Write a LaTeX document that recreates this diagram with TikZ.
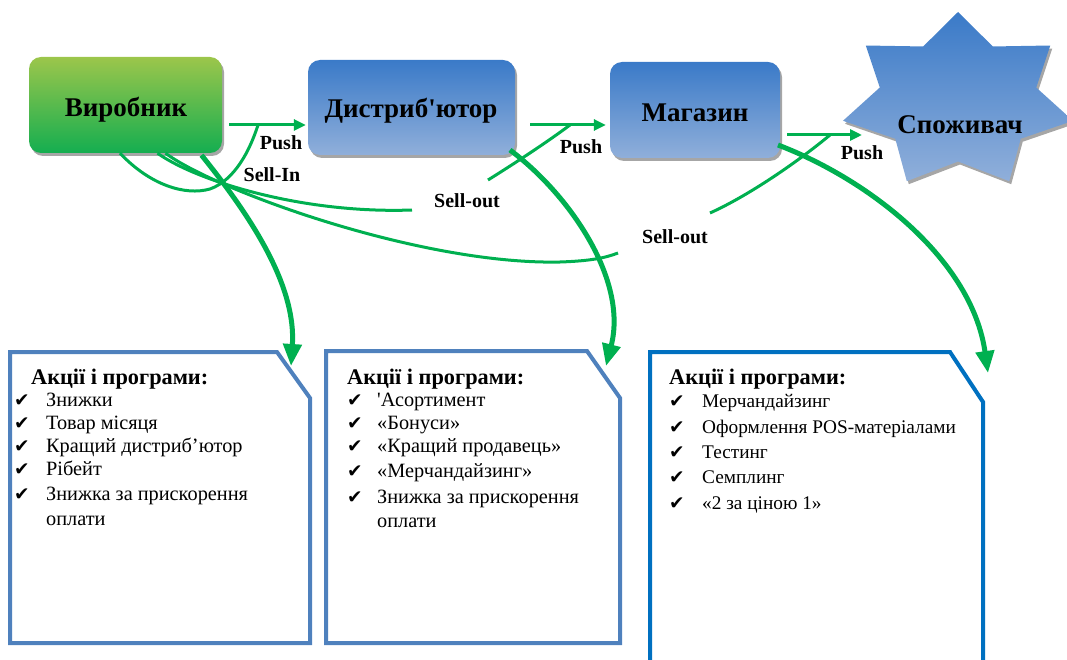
\documentclass[tikz,border=0pt]{standalone}
\usepackage{fontspec}
\setmainfont{Liberation Serif}[Ligatures=TeXOff]
\newfontfamily\dvs{DejaVu Sans}
\usetikzlibrary{arrows.meta,shadows}
\definecolor{grn}{HTML}{00B050}
\definecolor{gTop}{HTML}{9CC64B}
\definecolor{gBot}{HTML}{14AE50}
\definecolor{bTop}{HTML}{3A7AC8}
\definecolor{bBot}{HTML}{90AFDA}
\definecolor{brdA}{HTML}{4F81BD}
\definecolor{brdB}{HTML}{0070C0}
\begin{document}
\begin{tikzpicture}[x=1pt,y=-1pt,
  shd/.style={drop shadow={shadow xshift=2pt,shadow yshift=-3pt,fill=black!35,opacity=1}},
  gbox/.style={rounded corners=12pt, top color=gTop, bottom color=gBot, inner sep=0pt, shd},
  bbox/.style={rounded corners=12pt, top color=bTop, bottom color=bBot, inner sep=0pt, shd},
  bigtxt/.style={font=\rmfamily\bfseries\fontsize{27}{32}\selectfont, inner sep=0pt},
  lbl/.style={font=\rmfamily\bfseries\fontsize{20}{24}\selectfont, inner sep=0pt},
  ttl/.style={font=\rmfamily\bfseries\fontsize{22.3}{26}\selectfont, inner sep=0pt, anchor=base west},
  itm/.style={font=\rmfamily\fontsize{20.3}{24}\selectfont, inner sep=0pt, anchor=base west},
  itmb/.style={font=\rmfamily\fontsize{19.3}{23}\selectfont, inner sep=0pt, anchor=base west},
  chk/.style={font=\dvs\fontsize{18.5}{22}\selectfont, inner sep=0pt, anchor=base west},
  gline/.style={draw=grn, line width=3pt},
  garrow/.style={gline, -{Triangle[width=11pt,length=12pt]}},
  bigarrow/.style={draw=grn, line width=5pt, -{Triangle[width=18pt,length=22pt]}},
  infoA/.style={draw=brdA, line width=4pt, fill=white},
  infoB/.style={draw=brdB, line width=4pt, fill=white}
]
\useasboundingbox (0,0) rectangle (1067,660);

% main boxes
\node[gbox, minimum width=193pt, minimum height=96pt] (prod) at (125.5,105) {};
\node[bbox, minimum width=207pt, minimum height=95pt] (dist) at (411.5,107.5) {};
\node[bbox, minimum width=170pt, minimum height=96pt] (shop) at (695,110) {};

% star
\fill[black!35, xshift=2pt, yshift=-3pt] plot[variable=\k, samples at={0,...,13}]
  ({958+118*(0.84+0.16*cos(180*\k))*cos(90+\k*360/14)},
   {101-89*(0.84+0.16*cos(180*\k))*sin(90+\k*360/14)}) -- cycle;
\shade[top color=bTop, bottom color=bBot] plot[variable=\k, samples at={0,...,13}]
  ({958+118*(0.84+0.16*cos(180*\k))*cos(90+\k*360/14)},
   {101-89*(0.84+0.16*cos(180*\k))*sin(90+\k*360/14)}) -- cycle;

\node[bigtxt] (prodT) at (126,110) {Виробник};
\node[bigtxt] (distT) at (411,111) {Дистриб'ютор};
\node[bigtxt] (shopT) at (695,113) {Магазин};
\node[bigtxt] (consT) at (960,125) {Споживач};

% info boxes
\draw[infoA] (10,352) -- (277,352) -- (310,398) -- (310,643) -- (10,643) -- cycle;
\draw[infoA] (326,351) -- (587,351) -- (620,398) -- (620,643) -- (326,643) -- cycle;
\fill[white] (650,352) -- (950,352) -- (983,402) -- (983,670) -- (650,670) -- cycle;
\draw[infoB] (650,670) -- (650,352) -- (950,352) -- (983,402) -- (983,670);

% coordinates
\coordinate (p1s) at ([xshift=7pt,yshift=-20pt]prod.east);
\coordinate (p1e) at ([xshift=-2pt,yshift=-17.5pt]dist.west);
\coordinate (p2s) at ([xshift=15pt,yshift=-17.5pt]dist.east);
\coordinate (p2e) at ([xshift=-4pt,yshift=-15pt]shop.west);
\coordinate (p3s) at ([xshift=7pt,yshift=-25pt]shop.east);
\coordinate (p3e) at (862,135);
\coordinate (sinS) at ([xshift=-5.5pt]prod.south);
\coordinate (sinE) at (258,125);
\coordinate (so1S) at ([xshift=32pt]prod.south);
\coordinate (so1a) at (412,210);
\coordinate (so1b) at (488,180);
\coordinate (so1E) at (570,125);
\coordinate (so2S) at ([xshift=40pt]prod.south);
\coordinate (so2a) at (618,253);
\coordinate (so2b) at (710,213);
\coordinate (so2E) at (830,135);
\coordinate (a1S) at ([xshift=76pt,yshift=-2pt]prod.south);
\coordinate (a1E) at (291,366);
\coordinate (a2S) at (510,150);
\coordinate (a2E) at (606,366);
\coordinate (a3S) at (778,145);
\coordinate (a3E) at (988,373);

% thin connectors
\draw[garrow] (p1s) -- (p1e);
\draw[garrow] (p2s) -- (p2e);
\draw[garrow] (p3s) -- (p3e);
\draw[gline] (sinS) .. controls (150,185) and (185,196) .. (210,189) .. controls (235,180) and (250,150) .. (sinE);
\draw[gline] (so1S) .. controls (195,180) and (300,214) .. (so1a);
\draw[gline] (so1b) .. controls (520,160) and (550,140) .. (so1E);
\draw[gline] (so2S) .. controls (215,190) and (420,265) .. (560,262) .. controls (590,261) and (605,258) .. (so2a);
\draw[gline] (so2b) .. controls (750,195) and (800,160) .. (so2E);

% big arrows
\draw[bigarrow] (a1S) .. controls (258,225) and (296,290) .. (a1E);
\draw[bigarrow] (a2S) .. controls (570,195) and (628,280) .. (a2E);
\draw[bigarrow] (a3S) .. controls (870,180) and (972,260) .. (a3E);

% labels
\node[lbl] (push1) at (281,143) {Push};
\node[lbl] (sellin) at (272,175) {Sell-In};
\node[lbl] (push2) at (581,147) {Push};
\node[lbl] (sellout1) at (467,201) {Sell-out};
\node[lbl] (push3) at (862,153) {Push};
\node[lbl] (sellout2) at (675,237) {Sell-out};

% box 1 text
\node[ttl] (t1) at (31,384) {Акції і програми:};
\foreach \y/\t [count=\i] in {406/Знижки, 429/Товар місяця, 452/Кращий дистриб’ютор, 475/Рібейт, 500/Знижка за прискорення}{
  \node[chk] (c1\i) at (14,\y) {✔};
  \node[itm] (i1\i) at (46,\y) {\t};
}
\node[itm] (i16) at (46,525) {оплати};

% box 2 text
\node[ttl] (t2) at (347,384) {Акції і програми:};
\foreach \y/\t [count=\i] in {406/'Асортимент, 429/«Бонуси», 452/«Кращий продавець», 477/«Мерчандайзинг», 503/Знижка за прискорення}{
  \node[chk] (c2\i) at (347,\y) {✔};
  \node[itm] (i2\i) at (377,\y) {\t};
}
\node[itm] (i26) at (377,527) {оплати};

% box 3 text
\node[ttl] (t3) at (669,384) {Акції і програми:};
\foreach \y/\t [count=\i] in {407/Мерчандайзинг, 433/Оформлення POS-матеріалами, 458/Тестинг, 483/Семплинг, 509/«2 за ціною 1»}{
  \node[chk] (c3\i) at (669,\y) {✔};
  \node[itmb] (i3\i) at (702,\y) {\t};
}
\end{tikzpicture}
\end{document}
